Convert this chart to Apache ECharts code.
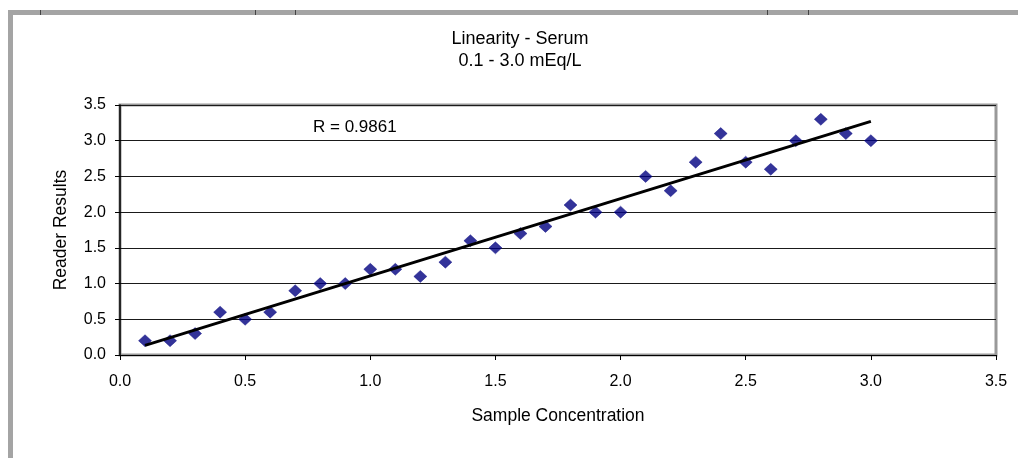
<!DOCTYPE html>
<html>
<head>
<meta charset="utf-8">
<script src="https://cdn.jsdelivr.net/npm/echarts@6/dist/echarts.min.js"></script>
<style>
  html, body { margin: 0; padding: 0; background: #fff; }
  #chart { width: 1018px; height: 458px; }
</style>
</head>
<body>
<div id="chart"></div>
<script>
// ---- Data ----
const titleLines = ['Linearity - Serum', '0.1 - 3.0 mEq/L'];
const xAxisName = 'Sample Concentration';
const yAxisName = 'Reader Results';
const rLabel = 'R = 0.9861';
const sampleConcentration = [0.1, 0.2, 0.3, 0.4, 0.5, 0.6, 0.7, 0.8, 0.9, 1.0,
                             1.1, 1.2, 1.3, 1.4, 1.5, 1.6, 1.7, 1.8, 1.9, 2.0,
                             2.1, 2.2, 2.3, 2.4, 2.5, 2.6, 2.7, 2.8, 2.9, 3.0];
const readerResults = [0.2, 0.2, 0.3, 0.6, 0.5, 0.6, 0.9, 1.0, 1.0, 1.2,
                       1.2, 1.1, 1.3, 1.6, 1.5, 1.7, 1.8, 2.1, 2.0, 2.0,
                       2.5, 2.3, 2.7, 3.1, 2.7, 2.6, 3.0, 3.3, 3.1, 3.0];
const axisMin = 0, axisMax = 3.5, axisStep = 0.5;

// Linear trendline (least squares, as Excel draws it) from the data
function fitLine(xs, ys) {
  const n = xs.length;
  const mx = xs.reduce((a, b) => a + b, 0) / n;
  const my = ys.reduce((a, b) => a + b, 0) / n;
  let sxy = 0, sxx = 0;
  for (let i = 0; i < n; i++) { sxy += (xs[i] - mx) * (ys[i] - my); sxx += (xs[i] - mx) ** 2; }
  const slope = sxy / sxx;
  return { slope, intercept: my - slope * mx };
}
const fit = fitLine(sampleConcentration, readerResults);
const xFirst = sampleConcentration[0], xLast = sampleConcentration[sampleConcentration.length - 1];
const trend = [[xFirst, fit.intercept + fit.slope * xFirst], [xLast, fit.intercept + fit.slope * xLast]];
const points = sampleConcentration.map((x, i) => [x, readerResults[i]]);

const FONT = "'Liberation Sans', Arial, sans-serif";
const chart = echarts.init(document.getElementById('chart'), null, { renderer: 'canvas' });

const handleXs = [40, 255, 295, 767, 808];
const graphics = [
  { type: 'rect', shape: { x: 10.5, y: 12.5, width: 1100, height: 600 },
    style: { fill: null, stroke: '#a4a4a4', lineWidth: 5 }, silent: true, z: 0 },
  { type: 'text', x: 520, y: 39,
    style: { text: titleLines[0], font: '18px ' + FONT, fill: '#000', textAlign: 'center', textVerticalAlign: 'middle' } },
  { type: 'text', x: 520, y: 61,
    style: { text: titleLines[1], font: '18px ' + FONT, fill: '#000', textAlign: 'center', textVerticalAlign: 'middle' } },
  { type: 'text', x: 313, y: 127,
    style: { text: rLabel, font: '17px ' + FONT, fill: '#000', textAlign: 'left', textVerticalAlign: 'middle' } }
];
handleXs.forEach(x => graphics.push({
  type: 'line', shape: { x1: x + 0.5, y1: 10, x2: x + 0.5, y2: 15 },
  style: { stroke: '#444', lineWidth: 1 }, silent: true
}));

chart.setOption({
  animation: false,
  backgroundColor: '#fff',
  grid: { left: 120, right: 22, top: 105, bottom: 103, show: true,
          borderColor: '#999999', borderWidth: 3, backgroundColor: 'transparent' },
  graphic: graphics,
  xAxis: {
    type: 'value', min: axisMin, max: axisMax, interval: axisStep,
    name: xAxisName, nameLocation: 'middle', nameGap: 52,
    nameTextStyle: { fontFamily: FONT, fontSize: 17.5, color: '#000' },
    axisLine: { show: true, onZero: false, lineStyle: { color: '#000', width: 1 } },
    axisTick: { show: true, inside: false, length: 5, lineStyle: { color: '#000' } },
    axisLabel: { margin: 19, fontFamily: FONT, fontSize: 16, color: '#000',
                 formatter: v => v.toFixed(1) },
    splitLine: { show: false }
  },
  yAxis: {
    type: 'value', min: axisMin, max: axisMax, interval: axisStep,
    name: yAxisName, nameLocation: 'middle', nameGap: 50, nameRotate: 90,
    nameTextStyle: { fontFamily: FONT, fontSize: 17.5, color: '#000' },
    axisLine: { show: true, onZero: false, lineStyle: { color: '#000', width: 1.5 } },
    axisTick: { show: true, inside: false, length: 5, lineStyle: { color: '#000' } },
    axisLabel: { margin: 14, fontFamily: FONT, fontSize: 16, color: '#000',
                 formatter: v => v.toFixed(1) },
    splitLine: { show: true, lineStyle: { color: '#1a1a1a', width: 1 } }
  },
  series: [
    { type: 'scatter', data: points, symbol: 'diamond', symbolSize: [13, 12],
      itemStyle: { color: '#000080', borderColor: '#000080', borderWidth: 0.5 }, z: 3 },
    { type: 'line', data: trend, showSymbol: false, symbol: 'none',
      lineStyle: { color: '#000', width: 3 }, z: 4, silent: true }
  ]
});
</script>
</body>
</html>
